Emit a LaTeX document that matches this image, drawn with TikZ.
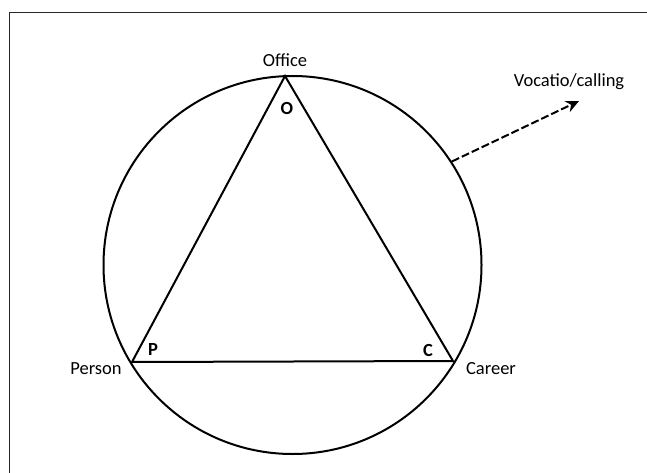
\documentclass[tikz,border=0pt]{standalone}
\usepackage{fontspec}
\setmainfont{Carlito}
\usetikzlibrary{arrows.meta}
\begin{document}
\begin{tikzpicture}[x=1pt,y=-1pt,
  lbl/.style={font=\fontsize{18.5}{20}\selectfont, inner sep=0pt},
  vlbl/.style={font=\fontsize{18.5}{20}\selectfont\bfseries, inner sep=0pt},
  edge/.style={line width=2pt, black},
  frameline/.style={line width=1pt, black!85}]
\useasboundingbox (0,0) rectangle (647,473);
\draw[frameline] (9,473) -- (9,13) -- (647,13);
\node[circle, draw, line width=2pt, minimum size=378pt, inner sep=0pt] (circ) at (292.5,265) {};
\coordinate (O) at (285,76);
\coordinate (P) at (132,362);
\coordinate (C) at (453,361);
\draw[edge] (O) -- (P) -- (C) -- cycle;
\node[lbl] (office) at (285,60) {Office};
\node[lbl] (person) at (96,369) {Person};
\node[lbl] (career) at (491,369) {Career};
\node[vlbl] (ol) at (287,108) {O};
\node[vlbl] (pl) at (153,349) {P};
\node[vlbl] (cl) at (428,350) {C};
\node[lbl] (voc) at (569,82) {Vocatio/calling};
\coordinate (tip) at (579,101);
\draw[edge, dash pattern=on 8pt off 3pt, -{Stealth[length=13pt,width=12pt]}] (circ.33.4) -- (tip);
\end{tikzpicture}
\end{document}
